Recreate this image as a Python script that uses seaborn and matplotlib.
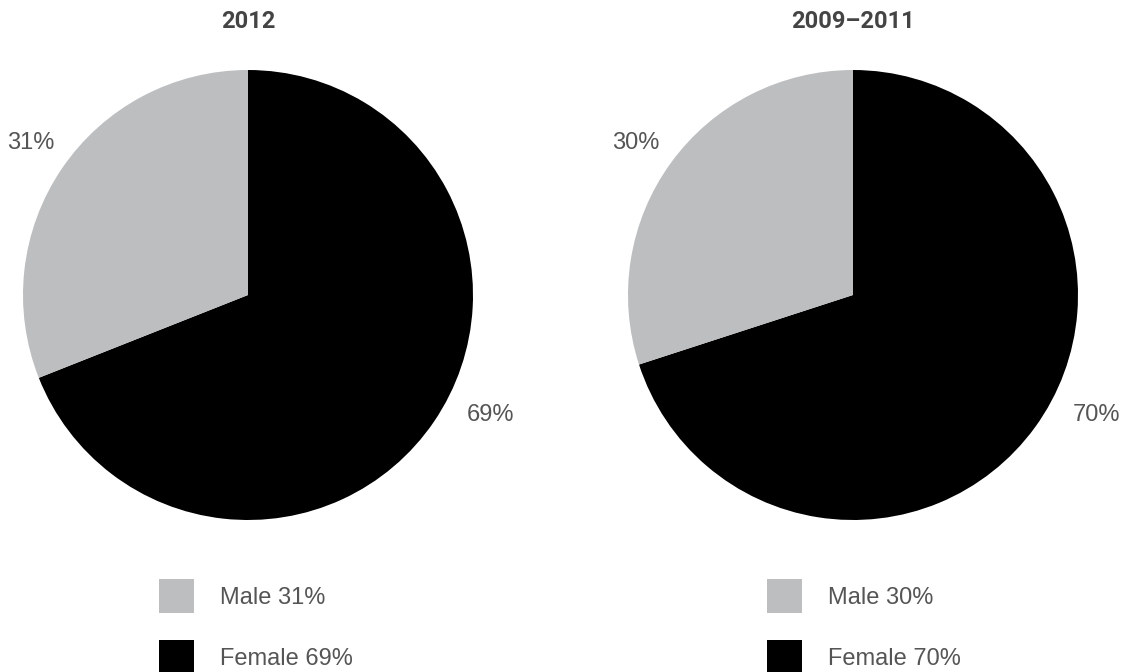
import matplotlib
matplotlib.use("Agg")
import matplotlib.pyplot as plt
import seaborn as sns

titles = ["2012", "2009\u20132011"]
categories = ["Female", "Male"]
female_pct = [69, 70]
male_pct = [31, 30]

sns.set_theme(style="white")
plt.rcParams['font.family'] = ['Liberation Sans', 'DejaVu Sans']

colors = {"Female": "#000000", "Male": "#BCBEC0"}
text_color = "#555555"

W, H = 1124, 672
fig = plt.figure(figsize=(W / 100, H / 100), dpi=100)

centers_x = [248, 853]
cy = 295
R = 225
legend_x = [159, 767]

for i in range(2):
    cx = centers_x[i]
    ax = fig.add_axes([(cx - R) / W, (H - cy - R) / H, 2 * R / W, 2 * R / H])
    vals = [female_pct[i], male_pct[i]]
    wedges, _ = ax.pie(vals, colors=[colors[c] for c in categories],
                       startangle=90, counterclock=False, radius=1,
                       wedgeprops=dict(linewidth=0))
    ax.set_xlim(-1, 1)
    ax.set_ylim(-1, 1)
    ax.set_aspect('equal')
    ax.axis('off')
    # percentage labels
    ax.text(-217 / R, 152 / R, f"{male_pct[i]}%", ha='center', va='center',
            fontsize=17, color=text_color)
    ax.text(243 / R, -120 / R, f"{female_pct[i]}%", ha='center', va='center',
            fontsize=17, color=text_color)
    # title
    fig.text(cx / W, 1 - 22 / H, titles[i], ha='center', va='center',
             fontsize=17, fontweight='bold', color='#444444',
             family=['Roboto', 'DejaVu Sans'])
    # legend
    labels = [f"Male {male_pct[i]}%", f"Female {female_pct[i]}%"]
    leg = fig.legend([wedges[1], wedges[0]], labels,
                     loc='upper left',
                     bbox_to_anchor=(legend_x[i] / W, 1 - 579 / H),
                     bbox_transform=fig.transFigure,
                     frameon=False, fontsize=17, borderpad=0, borderaxespad=0,
                     handlelength=1.48, handleheight=1.85, handletextpad=1.1,
                     labelspacing=1.15)
    for t in leg.get_texts():
        t.set_color(text_color)

fig.savefig("out.png", dpi=100, facecolor='white')
